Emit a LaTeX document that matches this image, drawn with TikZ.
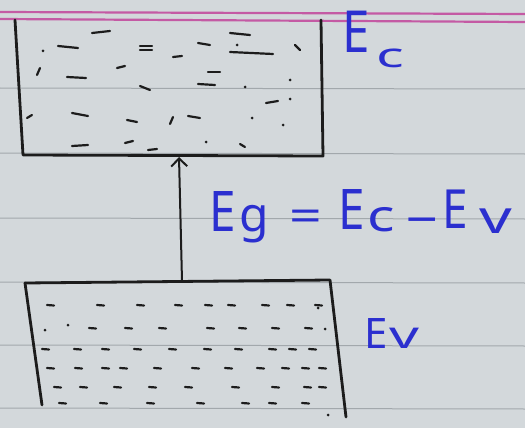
\documentclass[tikz,border=0pt]{standalone}
\usepackage{fontspec}
\setmainfont{Noto Sans}
\usetikzlibrary{arrows.meta}
\definecolor{paper}{HTML}{D3D8DB}
\definecolor{rule}{HTML}{A2A8AC}
\definecolor{margin}{HTML}{C45AA4}
\definecolor{ink}{HTML}{1C1C1C}
\definecolor{pen}{HTML}{2B2FCF}
\newcommand{\hw}[3]{{\fontsize{#1}{#1}\selectfont\scalebox{#2}[1]{#3}}}
\begin{document}
\begin{tikzpicture}[x=1pt,y=-1pt,
  edge/.style={ink,line width=2.8pt,line cap=round,line join=round},
  speck/.style={ink,line width=2.2pt,line cap=round},
  ruled/.style={rule,line width=1pt},
  label/.style={pen,inner sep=0pt,anchor=base west}]
\useasboundingbox (0,0) rectangle (525,428);
\fill[paper] (0,0) rectangle (525,428);
% ruled lines
\foreach \y in {88,153,218,282,345,408} \draw[ruled] (0,\y) -- (525,\y+1);
\draw[margin,line width=2.2pt] (0,12) -- (525,14);
\draw[margin,line width=2.2pt] (0,19) -- (525,22);
% conduction band (open top)
\draw[edge] (15,20) -- (23,155) -- (323,156) -- (321,20);
% valence band
\draw[edge] (25,283) -- (330,280) -- (346,417);
\draw[edge] (25,283) -- (42,405);
% arrow
\coordinate (vtop) at (182,281);
\coordinate (cbot) at (179,157);
\draw[ink,line width=2pt,-{Straight Barb[length=8pt,width=16pt,line width=2pt]}] (vtop) -- (cbot);
% specks in conduction band
\foreach \a/\b/\c/\d in {
 92/33/110/31, 58/46/78/48, 140/46/152/46, 140/50/152/50, 173/57/182/56,
 198/43/210/45, 230/33/250/35, 230/52/273/54, 295/45/300/50,
 37/75/40/68, 67/77/86/78, 117/68/125/66, 140/86/150/90, 208/72/220/72,
 198/84/215/85, 266/103/278/101, 27/118/32/115, 72/113/88/116,
 127/120/137/122, 170/124/173/117, 188/116/200/118, 72/146/88/145,
 125/143/133/141, 148/150/157/149, 240/144/245/147}
 \draw[speck] (\a,\b) -- (\c,\d);
\foreach \a/\b in {43/51, 237/45, 245/87, 290/80, 290/99, 252/118, 283/125, 206/142}
 \fill[ink] (\a,\b) circle (1.5pt);
% specks in valence band
\foreach \y/\xs in {305/{50,100,140,178,208,231,265,290,318},
  328/{92,128,162,210,242,275,308},
  349/{45,77,105,137,172,207,238,272,292,312},
  368/{50,78,105,123,157,195,228,260,285,305,322},
  387/{57,83,117,152,188,235,275,307,322},
  403/{62,103,150,200,245,272,305}}
 \foreach \x in \xs \draw[speck] (\x-3,\y) -- (\x+4,\y+0.5);
\foreach \a/\b in {45/330, 68/325, 325/329, 328/415, 318/308}
 \fill[ink] (\a,\b) circle (1.5pt);
% labels
\node[label] (Ec) at (342,53) {\hw{58}{0.85}{E}};
\node[label] (Ecs) at (376,68) {\hw{34}{1.7}{c}};
\node[label] (Ev) at (364,348) {\hw{42}{1}{E}};
\node[label] (Evs) at (389,348) {\hw{38}{1.55}{v}};
% equation
\node[label] (g1) at (209,231) {\hw{56}{0.85}{E}};
\node[label] (g2) at (239,231) {\hw{48}{1}{g}};
\node[label] (g3) at (289,231) {\hw{44}{1.3}{=}};
\node[label] (g4) at (338,229) {\hw{56}{0.85}{E}};
\node[label] (g5) at (367,231) {\hw{44}{1.3}{c}};
\node[label] (g6) at (404,231) {\hw{44}{2.5}{-}};
\node[label] (g7) at (442,228) {\hw{54}{0.85}{E}};
\node[label] (g8) at (479,233) {\hw{46}{1.4}{v}};
\end{tikzpicture}
\end{document}
